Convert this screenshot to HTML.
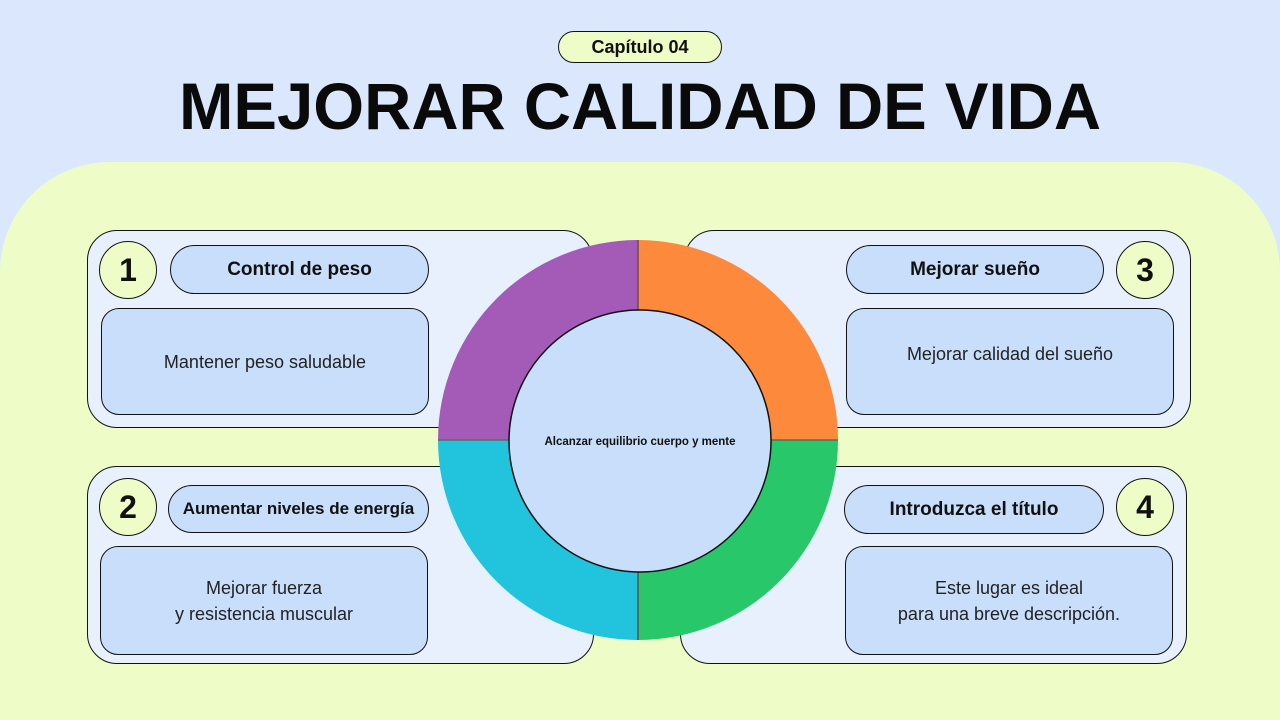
<!DOCTYPE html>
<html><head><meta charset="utf-8"><style>
*{margin:0;padding:0;box-sizing:border-box}
html,body{width:1280px;height:720px;overflow:hidden}
body{background:#dae7fc;font-family:"Liberation Sans",sans-serif;position:relative}
.abs{position:absolute}
.green{left:0;top:162px;width:1280px;height:558px;background:#eefdc8;border-radius:110px 110px 0 0}
.panel{position:absolute;background:#e7f0fc;border:1.5px solid #111;border-radius:30px}
.num{position:absolute;width:58px;height:58px;border-radius:50%;background:#eefdc8;border:1.5px solid #111;display:flex;align-items:center;justify-content:center;font-weight:900;font-size:32px;color:#111}
.pill{position:absolute;background:#c9defa;border:1.5px solid #111;border-radius:25px;display:flex;align-items:center;justify-content:center;font-weight:700;font-size:19px;color:#111}
.desc{position:absolute;background:#c9defa;border:1.5px solid #111;border-radius:18px;display:flex;align-items:center;justify-content:center;text-align:center;font-size:18px;color:#222;line-height:26px}
</style></head><body>
<div class="abs green"></div>
<div class="abs" style="left:558px;top:31px;width:164px;height:32px;border:1.5px solid #111;border-radius:16px;background:#eefdc8;display:flex;align-items:center;justify-content:center;font-weight:700;font-size:18px;color:#111">Capítulo 04</div>
<div class="abs" style="left:0;top:68px;width:1280px;text-align:center;font-weight:900;font-size:66px;line-height:76px;color:#0a0a0a;transform:scaleX(0.99)">MEJORAR CALIDAD DE VIDA</div>

<div class="panel" style="left:87px;top:230px;width:506px;height:198px"></div>
<div class="panel" style="left:87px;top:466px;width:507px;height:198px"></div>
<div class="panel" style="left:684px;top:230px;width:507px;height:198px"></div>
<div class="panel" style="left:680px;top:466px;width:507px;height:198px"></div>

<svg class="abs" style="left:0;top:0" width="1280" height="720">
<path d="M638 240 A200 200 0 0 0 438 440 L638 440Z" fill="#a45bb8"/>
<path d="M638 240 A200 200 0 0 1 838 440 L638 440Z" fill="#fd8a3c"/>
<path d="M438 440 A200 200 0 0 0 638 640 L638 440Z" fill="#22c3dd"/>
<path d="M838 440 A200 200 0 0 1 638 640 L638 440Z" fill="#28c76a"/>
<line x1="638" y1="240" x2="638" y2="640" stroke="#6a4a50" stroke-width="1.5"/>
<line x1="438" y1="440" x2="838" y2="440" stroke="#5a6a60" stroke-width="1.5"/>
<circle cx="640" cy="441" r="131" fill="#c9defa" stroke="#111" stroke-width="1.5"/>
<text x="640" y="445" text-anchor="middle" font-family="Liberation Sans" font-weight="bold" font-size="11.5" fill="#111">Alcanzar equilibrio cuerpo y mente</text>
</svg>

<div class="num" style="left:99px;top:241px">1</div>
<div class="pill" style="left:170px;top:245px;width:259px;height:49px">Control de peso</div>
<div class="desc" style="left:101px;top:308px;width:328px;height:107px">Mantener peso saludable</div>

<div class="num" style="left:99px;top:478px">2</div>
<div class="pill" style="left:168px;top:485px;width:261px;height:48px;font-size:17px">Aumentar niveles de energía</div>
<div class="desc" style="left:100px;top:546px;width:328px;height:109px">Mejorar fuerza<br>y resistencia muscular</div>

<div class="num" style="left:1116px;top:241px">3</div>
<div class="pill" style="left:846px;top:245px;width:258px;height:49px">Mejorar sueño</div>
<div class="desc" style="left:846px;top:308px;width:328px;height:107px;align-items:flex-start;padding-top:32px">Mejorar calidad del sueño</div>

<div class="num" style="left:1116px;top:478px">4</div>
<div class="pill" style="left:844px;top:485px;width:260px;height:49px">Introduzca el título</div>
<div class="desc" style="left:845px;top:546px;width:328px;height:109px">Este lugar es ideal<br>para una breve descripción.</div>
</body></html>
